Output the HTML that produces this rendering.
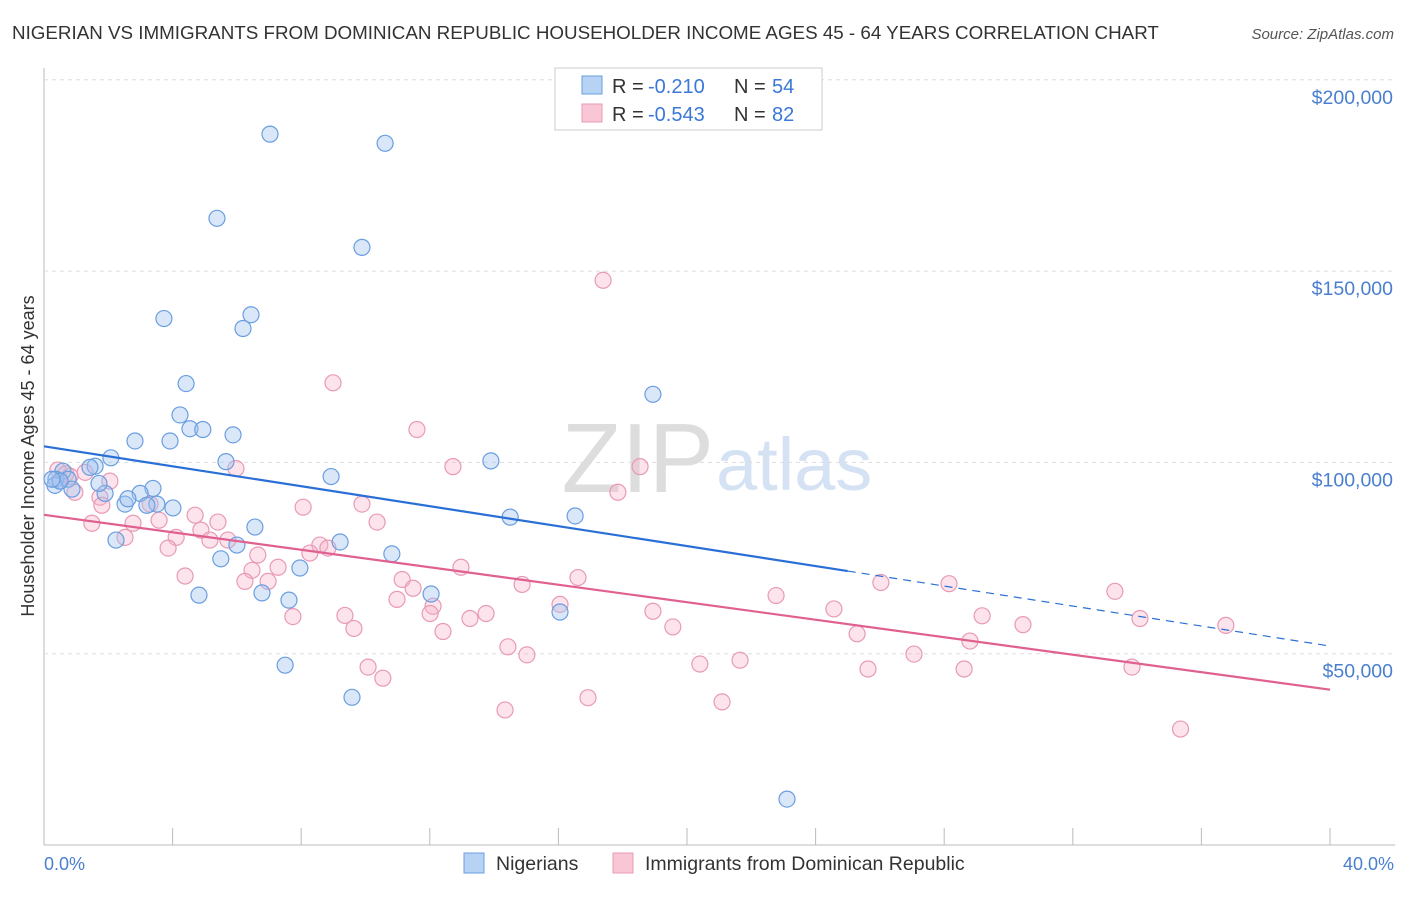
<!DOCTYPE html>
<html><head><meta charset="utf-8"><style>
body{margin:0;background:#fff;font-family:"Liberation Sans",sans-serif;}
svg text{font-family:"Liberation Sans",sans-serif;}
</style></head><body>
<svg id="c" width="1406" height="892" xmlns="http://www.w3.org/2000/svg">
<text x="12" y="39" font-size="18.8" fill="#333">NIGERIAN VS IMMIGRANTS FROM DOMINICAN REPUBLIC HOUSEHOLDER INCOME AGES 45 - 64 YEARS CORRELATION CHART</text>
<text x="1394" y="39" font-size="15" fill="#555" font-style="italic" text-anchor="end">Source: ZipAtlas.com</text>
<text x="714" y="492" font-size="98" fill="#ddd" text-anchor="end" font-family="Liberation Serif">ZIP</text>
<text x="716" y="490" font-size="74" fill="#d4e2f4">atlas</text>
<g id="grid"></g><g id="pts"></g><g id="lines"></g>
<text transform="translate(34,456) rotate(-90)" font-size="18" fill="#333" text-anchor="middle">Householder Income Ages 45 - 64 years</text>
<text x="44" y="870" font-size="18" fill="#4a7fd0">0.0%</text>
<text x="1394" y="870" font-size="18" fill="#4a7fd0" text-anchor="end">40.0%</text>
<g>
<rect x="555" y="68" width="267" height="62" fill="#fff" stroke="#ccc"/>
<rect x="582" y="76" width="20" height="18" fill="#b8d2f4" stroke="#6a9ee0"/>
<text x="612" y="93" font-size="20" fill="#333">R =</text><text x="648" y="93" font-size="20" fill="#3b78d8">-0.210</text>
<text x="734" y="93" font-size="20" fill="#333">N =</text><text x="772" y="93" font-size="20" fill="#3b78d8">54</text>
<rect x="582" y="104" width="20" height="18" fill="#f9c6d6" stroke="#e89ab5"/>
<text x="612" y="121" font-size="20" fill="#333">R =</text><text x="648" y="121" font-size="20" fill="#3b78d8">-0.543</text>
<text x="734" y="121" font-size="20" fill="#333">N =</text><text x="772" y="121" font-size="20" fill="#3b78d8">82</text>
</g>
<g>
<rect x="464" y="853" width="20" height="20" fill="#b8d2f4" stroke="#6a9ee0"/>
<text x="496" y="870" font-size="19.5" fill="#333">Nigerians</text>
<rect x="613" y="853" width="20" height="20" fill="#f9c6d6" stroke="#e89ab5"/>
<text x="645" y="870" font-size="19.5" fill="#333">Immigrants from Dominican Republic</text>
</g>
</svg>
<script>
const yTicks=[50000,100000,150000,200000];
const yTickLabels=["$50,000","$100,000","$150,000","$200,000"];
const blueX=[7.03,10.61,5.38,9.89,3.73,6.44,6.19,4.42,18.94,4.23,4.54,4.94,5.88,2.83,3.92,13.9,2.08,5.66,8.93,1.59,1.43,0.59,0.37,0.34,0.75,0.87,1.9,1.71,3.39,2.99,2.52,3.51,4.01,3.2,14.5,16.52,6.56,6,2.24,9.21,5.5,10.82,7.96,6.78,4.82,7.62,12.04,16.05,7.5,9.58,23.11,2.61,0.5,0.25];
const blueY=[185800,183400,163800,156200,137600,138600,135000,120600,117800,112400,108800,108600,107200,105600,105600,100400,101200,100200,96300,99000,98700,97700,95600,94000,95600,93000,91900,94500,93200,91900,89100,89100,88100,88800,85700,86000,83100,78400,79700,79200,74800,76100,72400,65900,65300,64000,65600,60900,47000,38600,12000,90500,95100,95600];
const pinkX=[17.39,8.99,11.6,12.72,18.54,5.97,17.85,1.28,0.43,0.68,0.96,1.74,3.3,1.8,9.89,8.06,10.36,4.7,5.41,1.49,2.77,3.58,2.52,4.11,4.88,5.16,5.72,3.86,6.65,8.58,8.83,8.27,7.28,6.47,4.39,6.25,6.97,11.14,12.97,16.61,14.87,11.48,10.98,12.1,12.01,9.36,7.74,13.25,13.75,9.64,16.05,18.94,19.56,22.77,24.57,26.03,28.15,29.18,30.45,33.31,34.09,36.76,25.29,28.8,12.41,14.43,15.02,27.06,21.65,20.4,10.08,10.54,25.63,28.62,33.84,14.34,16.92,21.09,35.35,0.5,0.81,2.05];
const pinkY=[147600,120800,108600,98900,98900,98400,92200,97400,98000,97000,92200,90900,89100,88800,89100,88300,84400,86200,84400,84100,84100,84900,80400,80400,82300,79700,79700,77600,75800,78400,77600,76300,72600,71800,70300,68900,68900,69400,72600,69900,68100,67100,64200,62400,60500,60000,59700,59200,60500,56600,62900,61100,57000,65200,61700,68600,68300,59900,57600,66300,59200,57400,55200,53300,55800,51800,49700,49900,48300,47300,46500,43600,46000,46000,46500,35300,38500,37400,30300,95100,96400,95100];
const X=p=>44+p*32.15, Y=v=>845-v/50000*191.3;
const ns="http://www.w3.org/2000/svg";
function mk(t,a,parent){const e=document.createElementNS(ns,t);for(const k in a)e.setAttribute(k,a[k]);document.getElementById(parent).appendChild(e);return e;}
let e=mk('line',{x1:44,y1:68,x2:44,y2:845,stroke:'#bbb'},'grid');


e=mk('line',{x1:44,y1:845,x2:1395,y2:845,stroke:'#bbb'},'grid');


for(let i=1;i<=10;i++){e=mk('line',{x1:X(i*4),y1:828,x2:X(i*4),y2:845,stroke:'#bbb'},'grid');

}
yTicks.forEach((v,i)=>{e=mk('line',{x1:44,y1:Y(v),x2:1395,y2:Y(v),stroke:'#ddd','stroke-dasharray':'4,4'},'grid');


e=mk('text',{x:1393,y:Y(v)+24,'font-size':19.5,fill:'#4a7fd0','text-anchor':'end'},'grid');e.textContent=yTickLabels[i];

});
pinkX.forEach((x,i)=>{e=mk('circle',{cx:X(x),cy:Y(pinkY[i]),r:8,fill:'rgba(246,176,200,0.35)',stroke:'#e89ab5','stroke-width':1.2},'pts');

});
blueX.forEach((x,i)=>{e=mk('circle',{cx:X(x),cy:Y(blueY[i]),r:8,fill:'rgba(160,196,240,0.4)',stroke:'#6a9ee0','stroke-width':1.2},'pts');

});
e=mk('line',{x1:X(0),y1:Y(104200),x2:X(25),y2:Y(71600),stroke:'#2a6fd6','stroke-width':2.2},'lines');


e=mk('line',{x1:X(25),y1:Y(71600),x2:X(40),y2:Y(52000),stroke:'#2a6fd6','stroke-width':1.2,'stroke-dasharray':'8,6'},'lines');


e=mk('line',{x1:X(0),y1:Y(86300),x2:X(40),y2:Y(40600),stroke:'#e0608f','stroke-width':2.2},'lines');


</script>
</body></html>
